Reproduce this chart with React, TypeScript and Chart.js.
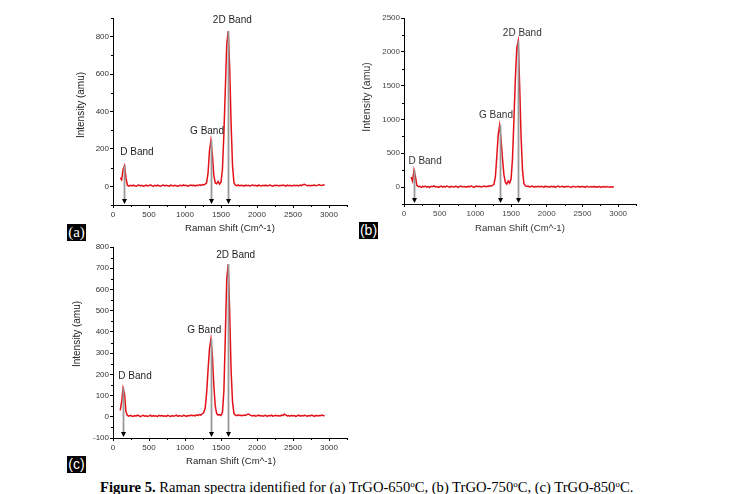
import React, { useEffect, useRef } from 'react';
import { Chart, registerables } from 'chart.js';

Chart.register(...registerables);

// ---------------- data ----------------
const ramanShift = [
  100, 120, 140, 160, 180, 200, 220, 240, 260, 280,
  300, 320, 340, 360, 380, 400, 420, 440, 460, 480,
  500, 520, 540, 560, 580, 600, 620, 640, 660, 680,
  700, 720, 740, 760, 780, 800, 820, 840, 860, 880,
  900, 920, 940, 960, 980, 1000, 1020, 1040, 1060, 1080,
  1100, 1120, 1140, 1160, 1180, 1200, 1220, 1240, 1260, 1280,
  1300, 1320, 1340, 1360, 1380, 1400, 1420, 1440, 1460, 1480,
  1500, 1520, 1540, 1560, 1580, 1600, 1620, 1640, 1660, 1680,
  1700, 1720, 1740, 1760, 1780, 1800, 1820, 1840, 1860, 1880,
  1900, 1920, 1940, 1960, 1980, 2000, 2020, 2040, 2060, 2080,
  2100, 2120, 2140, 2160, 2180, 2200, 2220, 2240, 2260, 2280,
  2300, 2320, 2340, 2360, 2380, 2400, 2420, 2440, 2460, 2480,
  2500, 2520, 2540, 2560, 2580, 2600, 2620, 2640, 2660, 2680,
  2700, 2720, 2740, 2760, 2780, 2800, 2820, 2840, 2860, 2880,
  2900, 2920, 2940,
];

// (a) TrGO-650
const intensityA = [
  45, 35, 90, 110, 45, 6, 1, 5, 2, 6,
  3, 0, 4, 7, 2, 5, 1, 3, 6, 2,
  4, 8, 3, 1, 5, 2, 6, 3, 0, 4,
  7, 2, 5, 3, 1, 6, 4, 2, 5, 3,
  1, 4, 6, 2, 8, 3, 5, 1, 4, 7,
  3, 6, 2, 5, 4, 8, 5, 9, 7, 12,
  18, 70, 190, 245, 170, 60, 18, 14, 26, 12,
  22, 90, 280, 520, 760, 830, 640, 340, 110, 18,
  6, 3, 7, 2, 5, 4, 1, 6, 3, 5,
  2, 4, 7, 3, 5, 1, 6, 4, 2, 5,
  3, 6, 2, 4, 7, 3, 1, 5, 4, 6,
  2, 5, 3, 7, 4, 1, 6, 3, 5, 2,
  4, 6, 3, 5, 2, 7, 4, 9, 11, 6,
  3, 5, 2, 6, 4, 7, 3, 5, 9, 6,
  4, 8, 5,
];

// (b) TrGO-750
const intensityB = [
  150, 90, 250, 160, 25, 5, 12, -5, 10, 4,
  15, 0, 8, -6, 12, 5, 18, 2, 9, -3,
  6, 14, -2, 10, 3, 16, 7, -4, 11, 5,
  2, 13, 8, -5, 9, 15, 1, 10, 6, -2,
  12, 4, 17, 7, -3, 9, 14, 5, 11, 3,
  8, 16, 6, 12, 10, 20, 15, 25, 40, 150,
  450, 780, 915, 700, 420, 180, 70, 45, 90, 60,
  120, 420, 1000, 1600, 2060, 2160, 1500, 750, 250, 50,
  20, 8, 14, 3, 10, 16, -2, 9, 5, 12,
  1, 11, 7, -4, 13, 6, 9, 0, 12, 4,
  10, -3, 8, 14, 2, 7, 11, -1, 9, 5,
  13, 3, -4, 8, 10, 1, 6, 12, -2, 7,
  4, 9, -3, 11, 5, 0, 8, 3, 10, -2,
  6, 1, 9, -4, 5, 8, 0, 7, 3, -1,
  4, 2, 6,
];

// (c) TrGO-850
const intensityC = [
  30, 70, 135, 110, 25, 6, 3, 7, 4, 2,
  6, 3, 8, 5, 1, 4, 7, 3, 5, 2,
  4, 8, 2, 6, 3, 5, 1, 7, 4, 6,
  3, 5, 2, 7, 4, 1, 6, 3, 5, 8,
  2, 6, 4, 3, 7, 5, 2, 6, 4, 8,
  5, 7, 4, 9, 6, 10, 8, 14, 20, 40,
  110, 220, 320, 365, 290, 150, 50, 15, 8, 10,
  6, 20, 120, 380, 650, 720, 500, 220, 70, 15,
  8, 5, 9, 6, 7, 5, 8, 6, 10, 13,
  9, 6, 4, 7, 3, 5, 8, 4, 6, 3,
  5, 7, 2, 6, 4, 8, 3, 5, 7, 4,
  6, 3, 8, 5, 12, 9, 4, 6, 3, 7,
  4, 6, 2, 5, 8, 3, 6, 4, 7, 5,
  3, 6, 4, 8, 5, 2, 7, 4, 6, 5,
  8, 5, 6,
];

const bandNames = ['D Band', 'G Band', '2D Band'];

const arrowXA = [150, 1365, 1600];
const arrowTopA = [110, 245, 830];
const labelXA = [333, 1306, 1657];
const labelYA = [182, 292, 889];

const arrowXB = [140, 1345, 1595];
const arrowTopB = [250, 915, 2160];
const labelXB = [295, 1289, 1657];
const labelYB = [384, 1064, 2272];

const arrowXC = [145, 1357, 1595];
const arrowTopC = [135, 365, 720];
const labelXC = [306, 1268, 1704];
const labelYC = [189, 409, 762];

const xTicks = [0, 500, 1000, 1500, 2000, 2500, 3000];
const xMinorTicks = [250, 750, 1250, 1750, 2250, 2750, 3250];
const yTicksA = [0, 200, 400, 600, 800];
const yMinorA = [-100, 100, 300, 500, 700, 900];
const yTicksB = [0, 500, 1000, 1500, 2000, 2500];
const yMinorB = [-250, 250, 750, 1250, 1750, 2250];
const yTicksC = [-100, 0, 100, 200, 300, 400, 500, 600, 700, 800];
const yMinorC = [-50, 50, 150, 250, 350, 450, 550, 650, 750];

const xTitle = 'Raman Shift (Cm^-1)';
const yTitle = 'Intensity (amu)';

// ---------------- layout ----------------
const SANS = '"Liberation Sans", Arial, Helvetica, sans-serif';
const SERIF = '"Liberation Serif", "Times New Roman", Times, serif';

type Panel = {
  left: number; top: number; width: number; height: number;
  padTop: number; padRight: number; yAxisWidth: number; xAxisHeight: number;
  yMin: number; yMax: number; yTicks: number[]; yMinor: number[];
  values: number[];
  arrowX: number[]; arrowTop: number[]; labelX: number[]; labelY: number[];
  xTitleAt: [number, number]; yTitleAt: [number, number];
  textColor: string; tickColor: string; yTitleSize: number;
};

const panels: Panel[] = [
  {
    left: 55, top: 0, width: 300, height: 240,
    padTop: 18, padRight: 8, yAxisWidth: 58, xAxisHeight: 35,
    yMin: -100, yMax: 900, yTicks: yTicksA, yMinor: yMinorA,
    values: intensityA,
    arrowX: arrowXA, arrowTop: arrowTopA, labelX: labelXA, labelY: labelYA,
    xTitleAt: [230, 228], yTitleAt: [81, 105],
    textColor: '#1e1e1e', tickColor: '#333', yTitleSize: 10,
  },
  {
    left: 355, top: 0, width: 300, height: 240,
    padTop: 18, padRight: 19, yAxisWidth: 49, xAxisHeight: 36,
    yMin: -250, yMax: 2500, yTicks: yTicksB, yMinor: yMinorB,
    values: intensityB,
    arrowX: arrowXB, arrowTop: arrowTopB, labelX: labelXB, labelY: labelYB,
    xTitleAt: [520, 228], yTitleAt: [367, 97],
    textColor: '#333', tickColor: '#444', yTitleSize: 10.5,
  },
  {
    left: 55, top: 240, width: 300, height: 235,
    padTop: 7, padRight: 8, yAxisWidth: 58, xAxisHeight: 37,
    yMin: -100, yMax: 800, yTicks: yTicksC, yMinor: yMinorC,
    values: intensityC,
    arrowX: arrowXC, arrowTop: arrowTopC, labelX: labelXC, labelY: labelYC,
    xTitleAt: [231, 461], yTitleAt: [77, 334],
    textColor: '#1e1e1e', tickColor: '#333', yTitleSize: 10,
  },
];

function makeDecor(p: Panel) {
  return {
    id: 'ramanDecor',
    afterDatasetsDraw(chart: any) {
      const { ctx, chartArea } = chart;
      const x = chart.scales.x;
      const y = chart.scales.y;
      ctx.save();
      p.arrowX.forEach((v, i) => {
        const px = Math.round(x.getPixelForValue(v)) + 0.5;
        const top = y.getPixelForValue(p.arrowTop[i]);
        const bottom = chartArea.bottom - 1;
        ctx.beginPath();
        ctx.moveTo(px, top);
        ctx.lineTo(px, bottom - 4);
        ctx.strokeStyle = '#999';
        ctx.lineWidth = 1.8;
        ctx.stroke();
        ctx.beginPath();
        ctx.moveTo(px - 2.5, bottom - 5);
        ctx.lineTo(px + 2.5, bottom - 5);
        ctx.lineTo(px, bottom);
        ctx.closePath();
        ctx.fillStyle = '#000';
        ctx.fill();
      });
      ctx.font = `10px ${SANS}`;
      ctx.fillStyle = p.textColor;
      ctx.textAlign = 'center';
      ctx.textBaseline = 'middle';
      bandNames.forEach((n, i) => {
        ctx.fillText(n, x.getPixelForValue(p.labelX[i]), y.getPixelForValue(p.labelY[i]));
      });
      ctx.restore();
    },
    afterDraw(chart: any) {
      const { ctx, chartArea } = chart;
      const x = chart.scales.x;
      const y = chart.scales.y;
      ctx.save();
      ctx.strokeStyle = '#000';
      ctx.lineWidth = 1;
      ctx.beginPath();
      xMinorTicks.forEach((v) => {
        const px = Math.round(x.getPixelForValue(v)) + 0.5;
        ctx.moveTo(px, chartArea.bottom);
        ctx.lineTo(px, chartArea.bottom + 2);
      });
      p.yMinor.forEach((v) => {
        const py = Math.round(y.getPixelForValue(v)) + 0.5;
        ctx.moveTo(chartArea.left, py);
        ctx.lineTo(chartArea.left - 2, py);
      });
      ctx.stroke();
      ctx.fillStyle = p.textColor;
      ctx.textAlign = 'center';
      ctx.textBaseline = 'middle';
      ctx.font = `9.6px ${SANS}`;
      ctx.fillText(xTitle, p.xTitleAt[0] - p.left, p.xTitleAt[1] - p.top);
      ctx.translate(p.yTitleAt[0] - p.left, p.yTitleAt[1] - p.top);
      ctx.rotate(-Math.PI / 2);
      ctx.font = `${p.yTitleSize}px ${SANS}`;
      ctx.fillText(yTitle, 0, 0);
      ctx.restore();
    },
  };
}

function buildConfig(p: Panel): any {
  return {
    type: 'line',
    data: {
      datasets: [
        {
          data: ramanShift.map((v, i) => ({ x: v, y: p.values[i] })),
          borderColor: '#e3121a',
          borderWidth: 1.5,
          pointRadius: 0,
          tension: 0,
          fill: false,
        },
      ],
    },
    options: {
      responsive: false,
      animation: false,
      devicePixelRatio: 1,
      layout: { padding: { top: p.padTop, right: p.padRight, bottom: 0, left: 0 } },
      plugins: { legend: { display: false }, tooltip: { enabled: false } },
      scales: {
        x: {
          type: 'linear',
          min: 0,
          max: 3250,
          afterBuildTicks: (s: any) => { s.ticks = xTicks.map((v) => ({ value: v })); },
          afterFit: (s: any) => { s.height = p.xAxisHeight; },
          grid: { drawOnChartArea: false, drawTicks: true, tickLength: 3, color: '#000', tickColor: '#000' },
          border: { display: true, color: '#000', width: 1 },
          ticks: {
            autoSkip: false, maxRotation: 0, padding: 2, color: p.tickColor,
            font: { family: SANS, size: 8 },
            callback: (v: any) => String(v),
          },
        },
        y: {
          type: 'linear',
          min: p.yMin,
          max: p.yMax,
          afterBuildTicks: (s: any) => { s.ticks = p.yTicks.map((v) => ({ value: v })); },
          afterFit: (s: any) => { s.width = p.yAxisWidth; },
          grid: { drawOnChartArea: false, drawTicks: true, tickLength: 3, color: '#000', tickColor: '#000' },
          border: { display: true, color: '#000', width: 1 },
          ticks: {
            autoSkip: false, padding: 1, color: p.tickColor,
            font: { family: SANS, size: 8 },
            callback: (v: any) => String(v),
          },
        },
      },
    },
    plugins: [makeDecor(p)],
  };
}

function RamanPanel({ p }: { p: Panel }) {
  const ref = useRef<HTMLCanvasElement | null>(null);
  useEffect(() => {
    if (!ref.current) return;
    const chart = new Chart(ref.current, buildConfig(p));
    return () => chart.destroy();
  }, [p]);
  return (
    <canvas
      ref={ref}
      width={p.width}
      height={p.height}
      style={{ position: 'absolute', left: p.left, top: p.top, width: p.width, height: p.height }}
    />
  );
}

const tagStyle = (left: number, top: number, serif: boolean): React.CSSProperties => ({
  position: 'absolute', left, top, width: 19, height: 17, background: '#000', color: '#fff',
  fontFamily: serif ? SERIF : SANS, fontSize: serif ? 15 : 14, lineHeight: '17px', textAlign: 'center',
});

const supStyle: React.CSSProperties = { fontSize: 9, verticalAlign: 'top', lineHeight: '10px' };

export default function App() {
  return (
    <div style={{ position: 'absolute', left: 0, top: 0, width: 741, height: 494, background: '#fff', overflow: 'hidden' }}>
      {panels.map((p, i) => <RamanPanel key={i} p={p} />)}
      <div style={tagStyle(67, 224, true)}>(a)</div>
      <div style={tagStyle(359, 222, false)}>(b)</div>
      <div style={tagStyle(67, 456, false)}>(c)</div>
      <div style={{ position: 'absolute', left: 100, top: 479, fontFamily: SERIF, fontSize: 14.6, lineHeight: '16px', whiteSpace: 'nowrap', color: '#000' }}>
        <b>Figure 5.</b> Raman spectra identified for (a) TrGO-650<sup style={supStyle}>o</sup>C, (b) TrGO-750<sup style={supStyle}>o</sup>C, (c) TrGO-850<sup style={supStyle}>o</sup>C.
      </div>
    </div>
  );
}
